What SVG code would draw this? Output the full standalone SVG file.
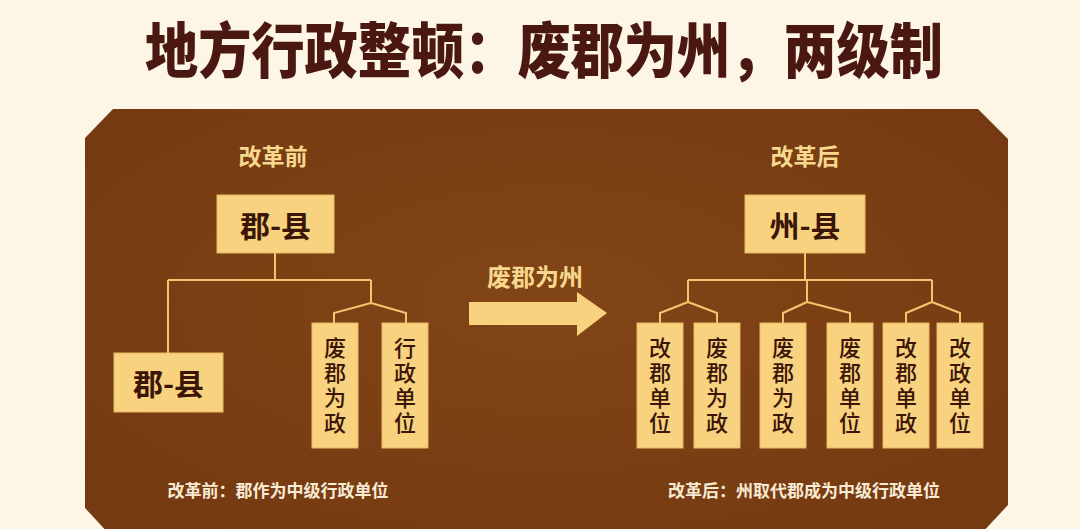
<svg xmlns="http://www.w3.org/2000/svg" width="1080" height="529" viewBox="0 0 1080 529">
<defs>
<radialGradient id="pg" cx="50%" cy="45%" r="65%">
<stop offset="0" stop-color="#824517"/>
<stop offset="1" stop-color="#763a12"/>
</radialGradient>
<style>
.cjk{font-family:"Noto Sans CJK SC","Noto Sans",sans-serif;}
.title{font-size:60px;font-weight:900;fill:#4a1810;}
.head{font-size:23px;font-weight:700;fill:#f7d88e;}
.box{fill:#f8d27f;stroke:#e9b964;stroke-width:1;}
.bt{font-size:30px;font-weight:700;fill:#3b1608;}
.vt{font-size:22px;font-weight:500;fill:#3b1608;writing-mode:vertical-rl;letter-spacing:3px;}
.note{font-size:17px;font-weight:700;fill:#f8ead3;}
.ln{fill:none;stroke:#f3c66e;stroke-width:2;}
text{dominant-baseline:central;text-anchor:middle;}
</style>
</defs>
<rect width="1080" height="529" fill="#fdf6e6"/>
<text class="cjk title" x="544" y="46" textLength="798" lengthAdjust="spacingAndGlyphs">地方行政整顿：废郡为州，两级制</text>
<polygon id="panel" points="113,109 978,109 1008,139 1008,505 980,535 110,535 85,508 85,138" fill="url(#pg)"/>

<g id="connectors">
<path class="ln" d="M275,253 V280 M168,280 H371 M168,280 V353 M371,280 V303 L334,313 V323 M371,303 L406,313 V323"/>
<path class="ln" d="M805,253 V280 M688,280 H932 M688,280 V302 L660,313 V323 M688,302 L717,313 V323 M807,280 V302 L783,313 V323 M807,302 L850,313 V323 M932,280 V302 L906,313 V323 M932,302 L960,313 V323"/>
</g>

<g id="label-before"><text class="cjk head" x="273" y="155">改革前</text></g>
<g id="label-after"><text class="cjk head" x="805" y="155">改革后</text></g>

<g id="node-jun-top"><rect class="box" x="217" y="195" width="117" height="58"/><text class="cjk bt" x="275.5" y="224">郡-县</text></g>
<g id="node-jun-low"><rect class="box" x="114" y="353" width="109" height="59"/><text class="cjk bt" x="168.5" y="382">郡-县</text></g>
<g id="node-b1"><rect class="box" x="312" y="323" width="46" height="125"/><text class="cjk vt" x="335" y="387">废郡为政</text></g>
<g id="node-b2"><rect class="box" x="382" y="323" width="46" height="125"/><text class="cjk vt" x="405" y="387">行政单位</text></g>
<g id="note-before"><text class="cjk note" x="278" y="489">改革前：郡作为中级行政单位</text></g>

<g id="arrow">
<text class="cjk head" x="535" y="275" style="font-size:24px">废郡为州</text>
<polygon points="469,302 577,302 577,292 607,313 577,336 577,325 469,325" fill="#f8d27f"/>
</g>

<g id="node-zhou"><rect class="box" x="745" y="195" width="120" height="58"/><text class="cjk bt" x="805" y="224">州-县</text></g>
<g id="node-a1"><rect class="box" x="637" y="323" width="46" height="125"/><text class="cjk vt" x="660" y="387">改郡单位</text></g>
<g id="node-a2"><rect class="box" x="694" y="323" width="46" height="125"/><text class="cjk vt" x="717" y="387">废郡为政</text></g>
<g id="node-a3"><rect class="box" x="760" y="323" width="46" height="125"/><text class="cjk vt" x="783" y="387">废郡为政</text></g>
<g id="node-a4"><rect class="box" x="827" y="323" width="46" height="125"/><text class="cjk vt" x="850" y="387">废郡单位</text></g>
<g id="node-a5"><rect class="box" x="883" y="323" width="46" height="125"/><text class="cjk vt" x="906" y="387">改郡单政</text></g>
<g id="node-a6"><rect class="box" x="937" y="323" width="46" height="125"/><text class="cjk vt" x="960" y="387">改政单位</text></g>
<g id="note-after"><text class="cjk note" x="804" y="489">改革后：州取代郡成为中级行政单位</text></g>
</svg>
